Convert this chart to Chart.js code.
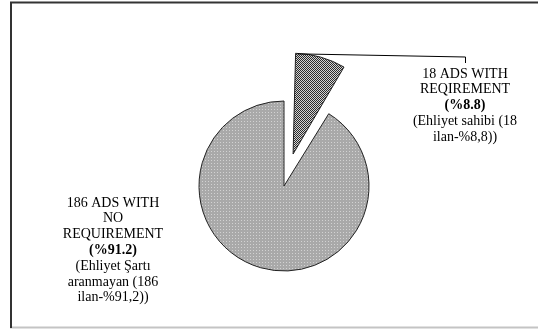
<!DOCTYPE html>
<html>
<head>
<meta charset="utf-8">
<script src="https://cdn.jsdelivr.net/npm/chart.js@4.4.0/dist/chart.umd.min.js"></script>
<style>
    html, body { margin: 0; padding: 0; background: #fff; }
    #wrap { width: 538px; height: 329px; }
</style>
</head>
<body>
<div id="wrap"><canvas id="licence_pie" width="538" height="329"></canvas></div>
<script>
'use strict';

// ads split by driving licence requirement
const categories = ['Ehliyet sahibi', 'Ehliyet Şartı aranmayan'];
const adCounts = [18, 186];
const headLines = [['ADS WITH', 'REQIREMENT'], ['ADS WITH', 'NO', 'REQUIREMENT']];
const turkishLines = [['(Ehliyet sahibi ({n}', 'ilan-%{p}))'], ['(Ehliyet Şartı', 'aranmayan ({n}', 'ilan-%{p}))']];
const labelAnchors = [{x: 465, y: 74}, {x: 113, y: 203}];

const total = adCounts.reduce((a, b) => a + b, 0);
const percents = adCounts.map(v => (v / total * 100).toFixed(1));

function makePattern(size, base, dot, dots) {
    const c = document.createElement('canvas');
    c.width = size;
    c.height = size;
    const g = c.getContext('2d');
    g.fillStyle = base;
    g.fillRect(0, 0, size, size);
    g.fillStyle = dot;
    dots.forEach(([x, y]) => g.fillRect(x, y, 1, 1));
    return g.createPattern(c, 'repeat');
}

const checker = makePattern(2, '#000', '#fff', [[0, 0], [1, 1]]);
const dotted = makePattern(3, '#a9a9a9', '#d2d2d2', [[1, 1]]);

function buildLines(i) {
    const n = adCounts[i];
    const p = percents[i];
    const lines = [];
    headLines[i].forEach((t, k) => lines.push({text: k === 0 ? n + ' ' + t : t, bold: false}));
    lines.push({text: '(%' + p + ')', bold: true});
    turkishLines[i].forEach(t => lines.push({
        text: t.replace('{n}', n).replace('{p}', p.replace('.', ',')),
        bold: false
    }));
    return lines;
}

const decorations = {
    id: 'decorations',
    beforeDraw(chart) {
        const ctx = chart.ctx;
        ctx.save();
        ctx.fillStyle = '#fff';
        ctx.fillRect(0, 0, chart.width, chart.height);
        // frame around the plot
        ctx.strokeStyle = '#c4c4c4';
        ctx.lineWidth = 2;
        ctx.beginPath();
        ctx.moveTo(10, 327.5);
        ctx.lineTo(chart.width, 327.5);
        ctx.stroke();
        ctx.strokeStyle = '#333';
        ctx.lineWidth = 2;
        ctx.beginPath();
        ctx.moveTo(11, 328);
        ctx.lineTo(11, 2.5);
        ctx.lineTo(chart.width, 2.5);
        ctx.stroke();
        ctx.restore();
    },
    afterDraw(chart) {
        const ctx = chart.ctx;
        const arc = chart.getDatasetMeta(0).data[0];
        const {x, y, startAngle, endAngle, outerRadius, circumference} =
            arc.getProps(['x', 'y', 'startAngle', 'endAngle', 'outerRadius', 'circumference'], true);
        // same shift the arc element applies when it draws an offset slice
        const fix = 1 - Math.sin(Math.min(Math.PI, circumference));
        const shift = arc.options.offset / 4 * (1 + fix);
        const mid = (startAngle + endAngle) / 2;
        const sx = x + shift * Math.cos(mid) + outerRadius * Math.cos(startAngle);
        const sy = y + shift * Math.sin(mid) + outerRadius * Math.sin(startAngle);

        ctx.save();
        // leader line to the small slice label
        ctx.strokeStyle = '#000';
        ctx.lineWidth = 1;
        ctx.beginPath();
        ctx.moveTo(sx, sy);
        ctx.lineTo(labelAnchors[0].x + 0.5, labelAnchors[0].y - 17);
        ctx.lineTo(labelAnchors[0].x + 0.5, labelAnchors[0].y - 11);
        ctx.stroke();

        ctx.fillStyle = '#000';
        ctx.textAlign = 'center';
        ctx.textBaseline = 'middle';
        labelAnchors.forEach((a, i) => {
            buildLines(i).forEach((ln, k) => {
                ctx.font = (ln.bold ? 'bold ' : '') + '14px "Liberation Serif", "Times New Roman", serif';
                ctx.fillText(ln.text, a.x, a.y + k * 15.8);
            });
        });
        ctx.restore();
    }
};

new Chart(document.getElementById('licence_pie'), {
    type: 'pie',
    data: {
        labels: categories,
        datasets: [{
            data: adCounts,
            backgroundColor: [checker, dotted],
            borderColor: '#222',
            borderWidth: 1,
            offset: [133, 0],
            radius: 85
        }]
    },
    options: {
        responsive: false,
        animation: false,
        events: [],
        layout: {padding: {left: 40, right: 10, top: 53, bottom: 10}},
        plugins: {
            legend: {display: false},
            tooltip: {enabled: false}
        }
    },
    plugins: [decorations]
});
</script>
</body>
</html>
